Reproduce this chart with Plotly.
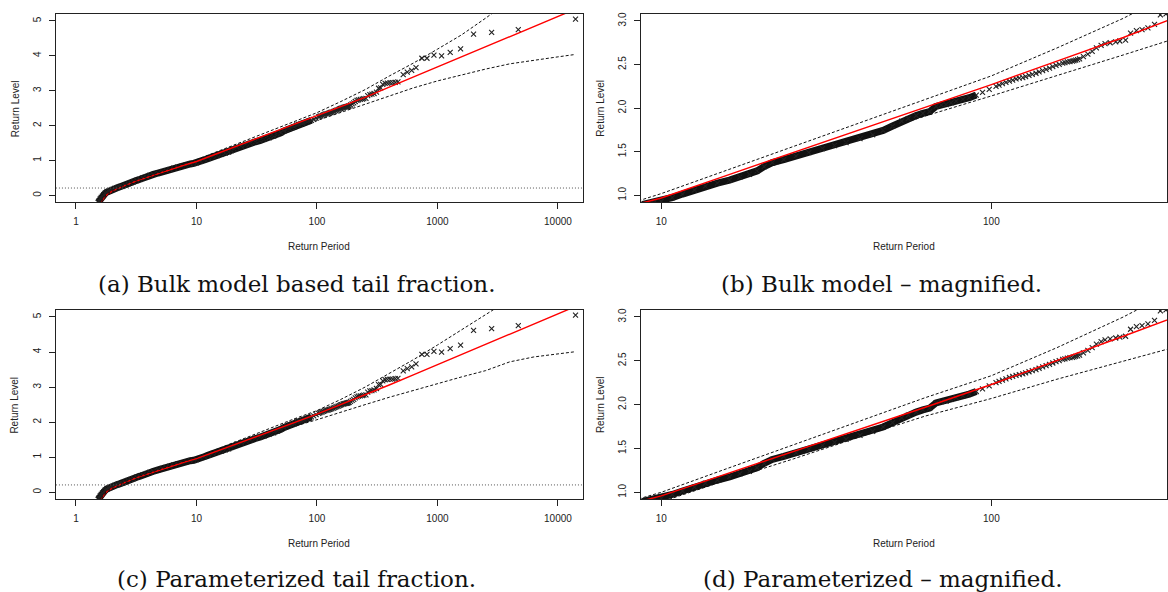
import math
import plotly.graph_objects as go

# ---------------- data ----------------
# empirical return periods / return levels (shared by all panels)
period = [1.53, 1.56, 1.59, 1.62, 1.66, 1.70, 1.75, 1.80, 1.86, 1.92, 2.0, 2.1, 2.2, 2.3, 2.41,
          2.55, 2.7, 2.85, 3.0, 3.2, 3.4, 3.6, 3.85, 4.1, 4.4, 4.8, 5.2, 5.6, 6.0, 6.5, 7.0,
          7.6, 8.2, 8.9, 9.5, 10.0, 10.8, 11.6, 12.6, 13.6, 14.8, 16.1, 17.3, 18.5, 19.5,
          20.5, 21.7, 23.5, 25.6, 28.0, 30.8, 33.5, 36.3, 40.0, 43.7, 47.0, 50.2, 53.5, 56.0,
          59.2, 62.0, 65.0, 68.0, 70.5, 72.9, 75.5, 78.2, 82.0, 85.7, 90.0, 94.0, 98.5, 103.3,
          105.5, 108, 110.7, 113.4, 116, 118.8, 121.5, 124.5, 127, 130, 133, 136.5, 139.5, 143,
          146.5, 150, 153.5, 157, 160.5, 164.4, 167, 170, 173, 176, 178, 180, 182.5, 185, 190,
          196, 202, 208, 215, 221, 229, 238, 245, 255, 264, 275, 286, 298, 312, 325, 338, 352,
          368, 385, 405, 425, 447, 470, 520, 562, 611, 664, 743, 819, 935, 1083, 1276, 1557,
          1995, 2818, 4690, 14000]
level = [-0.20, -0.15, -0.10, -0.06, -0.02, 0.02, 0.06, 0.09, 0.12, 0.14, 0.17, 0.20, 0.22, 0.24, 0.26,
         0.29, 0.33, 0.36, 0.39, 0.43, 0.46, 0.50, 0.53, 0.57, 0.60, 0.64, 0.68, 0.71, 0.74, 0.78, 0.81,
         0.84, 0.87, 0.90, 0.915, 0.93, 0.975, 1.015, 1.06, 1.105, 1.14, 1.175, 1.21, 1.24, 1.28,
         1.33, 1.375, 1.41, 1.45, 1.49, 1.535, 1.57, 1.605, 1.65, 1.695, 1.745, 1.795, 1.85, 1.88,
         1.915, 1.94, 1.96, 2.02, 2.035, 2.04, 2.06, 2.08, 2.10, 2.12, 2.15, 2.18, 2.215, 2.25,
         2.265, 2.28, 2.295, 2.31, 2.322, 2.335, 2.343, 2.35, 2.362, 2.375, 2.387, 2.40, 2.415, 2.43,
         2.445, 2.46, 2.475, 2.49, 2.503, 2.515, 2.522, 2.53, 2.535, 2.54, 2.545, 2.55, 2.557, 2.565, 2.59,
         2.62, 2.65, 2.69, 2.72, 2.74, 2.75, 2.76, 2.77, 2.78, 2.86, 2.89, 2.90, 2.92, 2.96, 3.07, 3.08, 3.18,
         3.21, 3.22, 3.23, 3.23, 3.24, 3.25, 3.46, 3.53, 3.58, 3.66, 3.93, 3.93, 4.02, 4.00, 4.10, 4.20,
         4.62, 4.67, 4.75, 5.05]
DENSE_MAX = 90  # below this period the crosses merge into a solid band

# fitted return level curves and confidence bounds
curve_period = [1.63, 1.78, 2.0, 2.24, 2.51, 3.16, 3.98, 5.01, 6.31, 7.94, 10, 15.8, 25.1, 39.8,
                63.1, 100, 158, 251, 398, 631, 1000, 1585, 2512, 3981, 6310, 10000, 14000]
bulk_fit = [-0.19, 0.00, 0.12, 0.20, 0.27, 0.41, 0.53, 0.65, 0.76, 0.87, 0.97, 1.23, 1.49, 1.75,
            2.01, 2.27, 2.54, 2.81, 3.10, 3.39, 3.68, 3.97, 4.26, 4.55, 4.84, 5.13, 5.34]
bulk_upper = [-0.17, 0.02, 0.14, 0.22, 0.29, 0.43, 0.55, 0.68, 0.79, 0.90, 1.02, 1.29, 1.56, 1.83,
              2.10, 2.37, 2.69, 3.03, 3.42, 3.79, 4.19, 4.60, 5.08, 5.60, 6.10, 6.60, 6.90]
bulk_lower = [-0.21, -0.02, 0.10, 0.18, 0.25, 0.38, 0.50, 0.61, 0.71, 0.81, 0.91, 1.16, 1.42, 1.66,
              1.91, 2.14, 2.37, 2.61, 2.85, 3.08, 3.28, 3.46, 3.62, 3.77, 3.88, 3.97, 4.04]
param_fit = [-0.19, 0.00, 0.12, 0.20, 0.27, 0.41, 0.53, 0.64, 0.75, 0.86, 0.96, 1.21, 1.46, 1.71,
             1.97, 2.23, 2.50, 2.78, 3.06, 3.35, 3.64, 3.93, 4.22, 4.51, 4.80, 5.09, 5.30]
param_upper = [-0.17, 0.02, 0.14, 0.22, 0.29, 0.43, 0.55, 0.67, 0.78, 0.89, 1.00, 1.27, 1.54, 1.81,
               2.08, 2.33, 2.65, 3.00, 3.38, 3.78, 4.20, 4.63, 5.06, 5.50, 6.00, 6.50, 6.80]
param_lower = [-0.21, -0.02, 0.10, 0.18, 0.25, 0.38, 0.50, 0.60, 0.70, 0.80, 0.89, 1.14, 1.38, 1.63,
               1.87, 2.07, 2.29, 2.50, 2.71, 2.91, 3.11, 3.29, 3.47, 3.72, 3.86, 3.95, 4.01]

threshold = 0.21
threshold_period_bulk = 2.41
threshold_period_param = 2.55

full_xticks = [1, 10, 100, 1000, 10000]
full_yticks = [0, 1, 2, 3, 4, 5]
mag_xticks = [10, 100]
mag_yticks = [1.0, 1.5, 2.0, 2.5, 3.0]

captions = ["(a) Bulk model based tail fraction.", "(b) Bulk model \u2013 magnified.",
            "(c) Parameterized tail fraction.", "(d) Parameterized \u2013 magnified."]

# ---------------- layout geometry ----------------
W, H = 1168, 592
def px_x(v):
    return v / W
def px_y(v):
    return 1 - v / H

panels = [
    ("a", (56, 583), (12, 201), True, "bulk"),
    ("b", (642, 1168), (12, 201), False, "bulk"),
    ("c", (56, 583), (309, 499), True, "param"),
    ("d", (642, 1168), (309, 499), False, "param"),
]
caption_pos = [(297, 283), (882, 283), (297, 579), (883, 579)]

fig = go.Figure()
layout = dict(width=W, height=H, margin=dict(l=0, r=0, t=0, b=0),
              paper_bgcolor="white", plot_bgcolor="white", showlegend=False)
annotations = []
shapes = []

tickfont = dict(family="Liberation Sans, Arial, sans-serif", size=10, color="#222")
dense_p = [p for p in period if p <= DENSE_MAX]
dense_l = [l for p, l in zip(period, level) if p <= DENSE_MAX]

for i, (name, (x0, x1), (y0, y1), full, model) in enumerate(panels):
    k = "" if i == 0 else str(i + 1)
    xa, ya = "x" + k, "y" + k
    fit = bulk_fit if model == "bulk" else param_fit
    up = bulk_upper if model == "bulk" else param_upper
    lo = bulk_lower if model == "bulk" else param_lower

    fig.add_trace(go.Scatter(x=dense_p, y=dense_l, mode="lines", xaxis=xa, yaxis=ya,
                             line=dict(color="#111", width=7), hoverinfo="skip"))
    fig.add_trace(go.Scatter(x=period, y=level, mode="markers", xaxis=xa, yaxis=ya,
                             marker=dict(symbol="x-thin", size=5, color="#222",
                                         line=dict(color="#222", width=1.1))))
    fig.add_trace(go.Scatter(x=curve_period, y=fit, mode="lines", xaxis=xa, yaxis=ya,
                             line=dict(color="#ff0000", width=1.4)))
    for c in (up, lo):
        fig.add_trace(go.Scatter(x=curve_period, y=c, mode="lines", xaxis=xa, yaxis=ya,
                                 line=dict(color="#111", width=1, dash="3px,2px")))

    if full:
        xr = [-0.166, 4.204]
        yr = [-0.2, 5.2]
        xt, yt = full_xticks, full_yticks
        ytxt = [str(v) for v in yt]
        tp = threshold_period_bulk if model == "bulk" else threshold_period_param
        shapes.append(dict(type="line", xref=xa, yref=ya + " domain", x0=math.log10(tp),
                           x1=math.log10(tp), y0=0, y1=1,
                           line=dict(color="#555", width=1, dash="1px,2px")))
        shapes.append(dict(type="line", xref=xa + " domain", yref=ya, x0=0, x1=1,
                           y0=threshold, y1=threshold,
                           line=dict(color="#555", width=1, dash="1px,2px")))
    else:
        xr = [0.94, 2.532]
        yr = [0.92, 3.08]
        xt, yt = mag_xticks, mag_yticks
        ytxt = ["%.1f" % v for v in yt]

    axis_common = dict(showline=True, mirror=True, linecolor="#222", linewidth=1,
                       ticks="outside", ticklen=6, tickcolor="#222", showgrid=False,
                       zeroline=False, tickfont=tickfont)
    layout["xaxis" + k] = dict(domain=[px_x(x0), px_x(x1)], type="log", range=xr,
                               tickvals=xt, ticktext=[str(v) for v in xt],
                               anchor=ya, ticklabelstandoff=4, **axis_common)
    layout["yaxis" + k] = dict(domain=[px_y(y1), px_y(y0)], range=yr, tickvals=yt,
                               ticktext=ytxt, tickangle=-90, anchor=xa,
                               ticklabelstandoff=4, **axis_common)

    annotations.append(dict(text="Return Period", xref="paper", yref="paper",
                            x=px_x((x0 + x1) / 2), y=px_y(y1 + 44), showarrow=False,
                            font=tickfont, xanchor="center", yanchor="middle"))
    annotations.append(dict(text="Return Level", xref="paper", yref="paper",
                            x=px_x(x0 - 41), y=px_y((y0 + y1) / 2), showarrow=False,
                            font=tickfont, textangle=-90, xanchor="center", yanchor="middle"))
    cx, cy = caption_pos[i]
    annotations.append(dict(text=captions[i], xref="paper", yref="paper", x=px_x(cx),
                            y=px_y(cy), showarrow=False, xanchor="center", yanchor="middle",
                            font=dict(family="DejaVu Serif", size=23, color="#111")))

layout["annotations"] = annotations
layout["shapes"] = shapes
fig.update_layout(**layout)
fig.write_html("out.html", config={"displayModeBar": False},
               post_script="document.body.style.margin='0px';")
